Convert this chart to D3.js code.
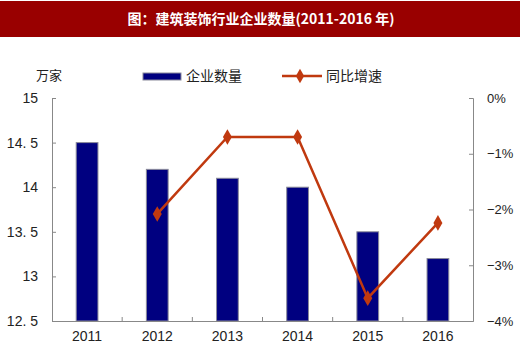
<!DOCTYPE html>
<meta charset="utf-8">
<style>
body { margin: 0; background: #fff; }
text { font-family: "Liberation Sans", Arial, sans-serif; }
.cjk { font-family: "Noto Sans CJK SC", sans-serif; }
.axis path, .axis line { stroke: #888; }
.axis text { fill: #222; font-size: 13px; }
</style>
<body>
<script src="https://cdn.jsdelivr.net/npm/d3@7"></script>
<script>
// data
var years = ["2011", "2012", "2013", "2014", "2015", "2016"];
var firms = [14.5, 14.2, 14.1, 14.0, 13.5, 13.2];          // 万家
var growth = [null, -2.08, -0.7, -0.7, -3.59, -2.24];      // %
var leftTicks = [12.5, 13, 13.5, 14, 14.5, 15];
var rightTicks = [0, -1, -2, -3, -4];

var W = 520, H = 353;
var margin = {top: 98, right: 47, bottom: 32, left: 52},
    width = W - margin.left - margin.right,
    height = H - margin.top - margin.bottom;

var svg = d3.select("body").append("svg")
    .attr("width", W)
    .attr("height", H);

// title bar
svg.append("rect")
    .attr("x", 0).attr("y", 1)
    .attr("width", W).attr("height", 36)
    .attr("fill", "#990000");
svg.append("text")
    .attr("class", "cjk")
    .attr("x", W / 2 + 1).attr("y", 24)
    .attr("text-anchor", "middle")
    .attr("fill", "#fff")
    .style("font-size", "14px")
    .style("font-weight", "bold")
    .text("图：建筑装饰行业企业数量(2011-2016 年)");

var g = svg.append("g")
    .attr("transform", "translate(" + margin.left + "," + margin.top + ")");

var x = d3.scaleBand().domain(years).range([0, width]).paddingInner(0.69).paddingOuter(0.345);
var xb = d3.scaleBand().domain(years).range([0, width]);
var y = d3.scaleLinear().domain([12.5, 15]).range([height, 0]);
var y2 = d3.scaleLinear().domain([-4, 0]).range([height, 0]);

// bars
g.selectAll(".bar")
    .data(years)
  .enter().append("rect")
    .attr("class", "bar")
    .attr("x", function(d) { return x(d); })
    .attr("width", x.bandwidth())
    .attr("y", function(d, i) { return y(firms[i]); })
    .attr("height", function(d, i) { return height - y(firms[i]); })
    .attr("fill", "#000080")
    .attr("stroke", "#8a8a9a")
    .attr("stroke-width", 1);

// left axis
var la = g.append("g").attr("class", "axis")
    .call(d3.axisLeft(y).tickValues(leftTicks).tickSize(-4).tickPadding(14)
      .tickFormat(function(d) { return d === 12.5 ? "12. 5" : d === 13.5 ? "13. 5" : d === 14.5 ? "14. 5" : d; }));
la.selectAll(".tick text").style("font-size", "14px");

// right axis
var ra = g.append("g").attr("class", "axis")
    .attr("transform", "translate(" + width + ",0)")
    .call(d3.axisRight(y2).tickValues(rightTicks).tickSize(-4).tickPadding(14)
      .tickFormat(function(d) { return (d < 0 ? "\u2212" + (-d) : d) + "%"; }));

// bottom axis, ticks on band edges
var ba = g.append("g").attr("class", "axis")
    .attr("transform", "translate(0," + height + ")")
    .call(d3.axisBottom(xb).tickSize(0).tickPadding(10));
ba.selectAll(".tick text").style("font-size", "14px");
ba.selectAll(".edge")
    .data(years.slice(1))
  .enter().append("line")
    .attr("x1", function(d) { return xb(d); })
    .attr("x2", function(d) { return xb(d); })
    .attr("y1", 0).attr("y2", -4)
    .attr("stroke", "#888");

// growth line
var pts = years.map(function(d, i) { return {year: d, v: growth[i]}; })
    .filter(function(d) { return d.v !== null; });
var line = d3.line()
    .x(function(d) { return xb(d.year) + xb.bandwidth() / 2; })
    .y(function(d) { return y2(d.v); });
g.append("path")
    .datum(pts)
    .attr("fill", "none")
    .attr("stroke", "#c0390f")
    .attr("stroke-width", 2.5)
    .attr("d", line);
g.selectAll(".dot")
    .data(pts)
  .enter().append("path")
    .attr("d", d3.symbol().type(d3.symbolDiamond).size(70))
    .attr("transform", function(d) {
      return "translate(" + (xb(d.year) + xb.bandwidth() / 2) + "," + y2(d.v) + ")";
    })
    .attr("fill", "#c0390f");

// unit label
svg.append("text")
    .attr("class", "cjk")
    .attr("x", 36).attr("y", 80)
    .attr("fill", "#222")
    .style("font-size", "13px")
    .text("万家");

// legend
svg.append("rect")
    .attr("x", 143).attr("y", 73)
    .attr("width", 38).attr("height", 7)
    .attr("fill", "#000080")
    .attr("stroke", "#8a8a9a");
svg.append("text")
    .attr("class", "cjk")
    .attr("x", 186).attr("y", 81)
    .attr("fill", "#222")
    .style("font-size", "14px")
    .text("企业数量");
svg.append("line")
    .attr("x1", 282).attr("x2", 322)
    .attr("y1", 76).attr("y2", 76)
    .attr("stroke", "#c0390f")
    .attr("stroke-width", 2.5);
svg.append("path")
    .attr("d", d3.symbol().type(d3.symbolDiamond).size(60))
    .attr("transform", "translate(300,76)")
    .attr("fill", "#c0390f");
svg.append("text")
    .attr("class", "cjk")
    .attr("x", 326).attr("y", 81)
    .attr("fill", "#222")
    .style("font-size", "14px")
    .text("同比增速");
</script>
</body>
